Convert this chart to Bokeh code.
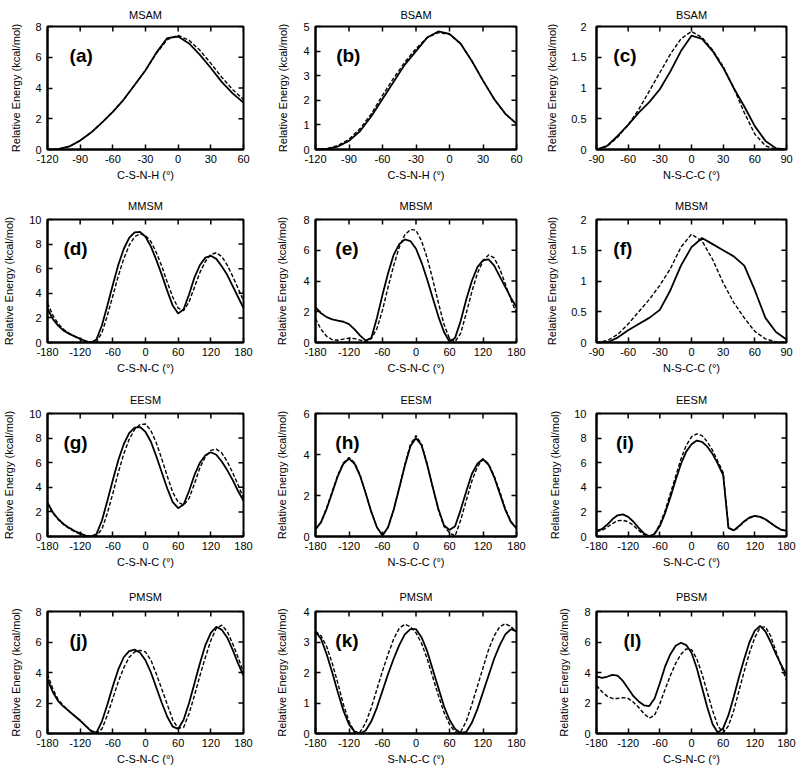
import math
from bokeh.plotting import figure
from bokeh.layouts import gridplot
from bokeh.models import FixedTicker, Range1d, Label
from bokeh.embed import file_html
from bokeh.resources import INLINE

FONT = "Liberation Sans"

# ---------------- data (angles in degrees, energies in kcal/mol) ----------------
ANG_A = [-120, -110, -100, -90, -80, -70, -60, -50, -40, -30, -20, -10, 0, 10, 20, 30, 40, 50, 60]
ANG_C = [-90, -80, -70, -60, -50, -40, -30, -20, -10, 0, 10, 20, 30, 40, 50, 60, 70, 80, 90]
ANG_D = [-180, -170, -160, -150, -140, -130, -120, -110, -100, -90, -80, -70, -60, -50, -40, -30,
         -20, -10, 0, 10, 20, 30, 40, 50, 60, 70, 80, 90, 100, 110, 120, 130, 140, 150, 160, 170, 180]

XT_A = [-120, -90, -60, -30, 0, 30, 60]
XT_C = [-90, -60, -30, 0, 30, 60, 90]
XT_D = [-180, -120, -60, 0, 60, 120, 180]
YT_2 = [0, 0.5, 1, 1.5, 2]
YT_4 = [0, 1, 2, 3, 4]
YT_5 = [0, 1, 2, 3, 4, 5]
YT_6 = [0, 2, 4, 6]
YT_8 = [0, 2, 4, 6, 8]
YT_10 = [0, 2, 4, 6, 8, 10]

a_solid = [0.0, 0.03, 0.2, 0.58, 1.1, 1.75, 2.45, 3.25, 4.2, 5.15, 6.3, 7.25, 7.35, 6.9, 6.15, 5.3, 4.4, 3.65, 3.05]
a_dashed = [0.0, 0.03, 0.2, 0.58, 1.1, 1.75, 2.45, 3.25, 4.2, 5.15, 6.25, 7.15, 7.42, 7.1, 6.45, 5.6, 4.7, 3.9, 3.25]

b_solid = [0.0, 0.02, 0.12, 0.35, 0.75, 1.35, 2.05, 2.75, 3.45, 4.0, 4.55, 4.8, 4.7, 4.3, 3.6, 2.8, 2.05, 1.45, 1.05]
b_dashed = [0.0, 0.03, 0.16, 0.42, 0.85, 1.45, 2.2, 2.9, 3.55, 4.1, 4.55, 4.75, 4.68, 4.3, 3.6, 2.8, 2.05, 1.45, 1.05]

c_solid = [0.0, 0.06, 0.22, 0.4, 0.6, 0.77, 0.98, 1.27, 1.6, 1.85, 1.8, 1.6, 1.33, 1.0, 0.7, 0.38, 0.14, 0.02, 0.0]
c_dashed = [0.0, 0.05, 0.2, 0.4, 0.65, 0.95, 1.25, 1.55, 1.8, 1.92, 1.82, 1.62, 1.35, 1.0, 0.6, 0.25, 0.06, 0.0, 0.0]

d_solid = [2.75, 1.9, 1.35, 0.95, 0.7, 0.5, 0.3, 0.1, 0.0, 0.25, 1.4, 3.0, 4.7, 6.3, 7.6, 8.5,
           8.95, 9.0, 8.6, 7.8, 6.7, 5.5, 4.2, 3.0, 2.35, 2.7, 3.9, 5.3, 6.3, 6.9, 7.05, 6.8, 6.2, 5.5, 4.6, 3.7, 2.8]
d_dashed = [3.2, 2.2, 1.5, 1.05, 0.75, 0.5, 0.3, 0.12, 0.03, 0.05, 0.8, 2.2, 3.8, 5.4, 6.8, 7.9,
            8.6, 8.85, 8.7, 8.2, 7.3, 6.2, 4.9, 3.7, 2.8, 2.6, 3.3, 4.5, 5.7, 6.6, 7.15, 7.3, 7.0, 6.3, 5.4, 4.4, 3.4]

e_solid = [2.3, 1.9, 1.65, 1.5, 1.42, 1.35, 1.2, 0.85, 0.45, 0.12, 0.3, 1.6, 3.1, 4.5, 5.7, 6.4,
           6.7, 6.6, 6.1, 5.2, 4.1, 2.9, 1.7, 0.7, 0.05, 0.3, 1.4, 2.8, 4.0, 4.9, 5.35, 5.4, 5.0, 4.3, 3.6, 2.9, 2.3]
e_dashed = [1.55, 0.85, 0.4, 0.18, 0.15, 0.22, 0.28, 0.25, 0.15, 0.05, 0.25, 0.9, 2.1, 3.6, 5.0, 6.2,
            7.0, 7.35, 7.3, 6.6, 5.5, 4.1, 2.6, 1.2, 0.25, 0.05, 0.6, 1.9, 3.3, 4.5, 5.3, 5.7, 5.5, 4.8, 3.8, 2.8, 1.9]

f_solid = [0.0, 0.0, 0.08, 0.2, 0.3, 0.4, 0.53, 0.85, 1.25, 1.55, 1.7, 1.6, 1.5, 1.4, 1.25, 0.85, 0.4, 0.17, 0.05]
f_dashed = [0.0, 0.03, 0.13, 0.3, 0.5, 0.7, 0.93, 1.2, 1.55, 1.76, 1.65, 1.35, 0.97, 0.65, 0.4, 0.18, 0.06, 0.01, 0.0]

g_solid = [2.75, 1.95, 1.4, 1.0, 0.7, 0.45, 0.25, 0.08, 0.0, 0.2, 1.3, 2.9, 4.6, 6.2, 7.5, 8.4,
           8.85, 8.9, 8.5, 7.7, 6.5, 5.2, 3.9, 2.8, 2.3, 2.6, 3.7, 5.0, 6.0, 6.6, 6.85, 6.65, 6.1, 5.4, 4.6, 3.7, 2.9]
g_dashed = [2.7, 1.9, 1.35, 0.95, 0.65, 0.4, 0.2, 0.07, 0.0, 0.05, 0.6, 1.9, 3.5, 5.2, 6.7, 7.9,
            8.7, 9.1, 9.15, 8.6, 7.6, 6.3, 4.9, 3.6, 2.8, 2.55, 3.1, 4.3, 5.6, 6.5, 7.0, 7.1, 6.8, 6.1, 5.2, 4.2, 3.1]

h_solid = [0.35, 0.7, 1.35, 2.15, 2.95, 3.55, 3.8, 3.55, 2.95, 2.1, 1.2, 0.45, 0.05, 0.45, 1.3, 2.35,
           3.45, 4.4, 4.8, 4.45, 3.5, 2.4, 1.35, 0.55, 0.32, 0.5, 1.3, 2.2, 3.05, 3.55, 3.78, 3.5, 2.9, 2.1, 1.3, 0.7, 0.4]
h_dashed = [0.35, 0.7, 1.4, 2.2, 3.0, 3.6, 3.85, 3.6, 3.0, 2.1, 1.2, 0.45, 0.05, 0.45, 1.3, 2.4,
            3.5, 4.5, 4.92, 4.5, 3.55, 2.4, 1.3, 0.5, 0.18, 0.02, 0.8, 1.75, 2.7, 3.4, 3.78, 3.55, 2.95, 2.2, 1.35, 0.75, 0.4]

i_solid = [0.45, 0.6, 0.95, 1.4, 1.72, 1.8, 1.6, 1.2, 0.7, 0.25, 0.02, 0.2, 0.85, 1.9, 3.2, 4.6,
           5.9, 6.9, 7.5, 7.8, 7.7, 7.3, 6.7, 5.9, 5.0, 0.7, 0.5, 0.85, 1.25, 1.55, 1.68, 1.6, 1.4, 1.1, 0.8, 0.55, 0.45]
i_dashed = [0.4, 0.5, 0.75, 1.05, 1.28, 1.32, 1.2, 0.9, 0.5, 0.15, 0.0, 0.25, 1.0, 2.1, 3.5, 4.9,
            6.3, 7.4, 8.1, 8.35, 8.2, 7.7, 7.0, 6.1, 5.2, 0.8, 0.45, 0.8, 1.2, 1.5, 1.65, 1.6, 1.4, 1.1, 0.8, 0.55, 0.45]

j_solid = [3.55, 2.7, 2.1, 1.75, 1.45, 1.15, 0.85, 0.5, 0.15, 0.05, 0.8, 1.9, 3.1, 4.2, 5.0, 5.4,
           5.5, 5.3, 4.8, 4.0, 3.0, 2.0, 1.1, 0.45, 0.3, 0.9, 2.0, 3.3, 4.6, 5.8, 6.6, 7.0, 6.8, 6.3, 5.5, 4.6, 3.8]
j_dashed = [3.9, 2.9, 2.2, 1.8, 1.45, 1.15, 0.85, 0.5, 0.2, 0.02, 0.3, 1.2, 2.3, 3.4, 4.3, 5.0,
            5.35, 5.45, 5.35, 4.8, 3.9, 2.9, 1.9, 0.9, 0.35, 0.4, 1.3, 2.5, 3.8, 5.0, 6.1, 6.9, 7.1, 6.7, 5.9, 5.0, 4.0]

k_solid = [3.35, 3.1, 2.6, 2.0, 1.35, 0.75, 0.3, 0.06, 0.0, 0.1, 0.4, 0.85, 1.4, 1.95, 2.45, 2.9,
           3.25, 3.42, 3.42, 3.15, 2.7, 2.1, 1.5, 0.9, 0.45, 0.15, 0.02, 0.05, 0.35, 0.8, 1.35, 1.9, 2.45, 2.9, 3.25, 3.42, 3.35]
k_dashed = [3.35, 3.2, 2.85, 2.3, 1.65, 0.95, 0.4, 0.05, 0.05, 0.35, 0.85, 1.45, 2.05, 2.6, 3.1, 3.45,
            3.58, 3.5, 3.3, 2.95, 2.45, 1.85, 1.25, 0.7, 0.3, 0.05, 0.05, 0.4, 0.95, 1.55, 2.15, 2.75, 3.2, 3.5, 3.6, 3.5, 3.35]

l_solid = [3.75, 3.65, 3.72, 3.85, 3.8, 3.45, 2.95, 2.45, 2.1, 1.85, 1.8, 2.3, 3.3, 4.4, 5.2, 5.75,
           5.95, 5.8, 5.3, 4.3, 3.0, 1.7, 0.6, 0.05, 0.35, 1.2, 2.4, 3.7, 4.9, 6.0, 6.75, 7.05, 6.7, 6.0, 5.2, 4.5, 3.85]
l_dashed = [3.15, 2.75, 2.45, 2.3, 2.3, 2.35, 2.3, 2.05, 1.7, 1.3, 1.0, 1.2, 1.95, 2.9, 3.8, 4.6,
            5.2, 5.55, 5.5, 4.9, 3.9, 2.7, 1.5, 0.5, 0.05, 0.5, 1.5, 2.8, 4.1, 5.3, 6.3, 6.95, 7.0, 6.4, 5.4, 4.4, 3.5]

PANELS = [
    ("(a)", "MSAM", "C-S-N-H (°)", ANG_A, a_solid, a_dashed, XT_A, YT_8),
    ("(b)", "BSAM", "C-S-N-H (°)", ANG_A, b_solid, b_dashed, XT_A, YT_5),
    ("(c)", "BSAM", "N-S-C-C (°)", ANG_C, c_solid, c_dashed, XT_C, YT_2),
    ("(d)", "MMSM", "C-S-N-C (°)", ANG_D, d_solid, d_dashed, XT_D, YT_10),
    ("(e)", "MBSM", "C-S-N-C (°)", ANG_D, e_solid, e_dashed, XT_D, YT_8),
    ("(f)", "MBSM", "N-S-C-C (°)", ANG_C, f_solid, f_dashed, XT_C, YT_2),
    ("(g)", "EESM", "C-S-N-C (°)", ANG_D, g_solid, g_dashed, XT_D, YT_10),
    ("(h)", "EESM", "N-S-C-C (°)", ANG_D, h_solid, h_dashed, XT_D, YT_6),
    ("(i)", "EESM", "S-N-C-C (°)", ANG_D, i_solid, i_dashed, XT_D, YT_10),
    ("(j)", "PMSM", "C-S-N-C (°)", ANG_D, j_solid, j_dashed, XT_D, YT_8),
    ("(k)", "PMSM", "S-N-C-C (°)", ANG_D, k_solid, k_dashed, XT_D, YT_4),
    ("(l)", "PBSM", "C-S-N-C (°)", ANG_D, l_solid, l_dashed, XT_D, YT_8),
]

# ---------------- layout (pixels) ----------------
COL_W = [273, 270, 257]
ROW_H = [190, 194, 196, 190]
BORDER_L = [[39, 39, 51], [46, 40, 51], [46, 40, 48], [39, 40, 39]]
BORDER_R = [30, 27, 14]
BORDER_T = [25, 28, 28, 30]
BORDER_B = [41, 42, 44, 37]
TITLE_STANDOFF = [12, 15, 15, 17]
LABEL_H = 13.5                     # height reserved for one line of 11px text
YLAB_CX = [10, 8.5, 8.5]           # centre of the rotated y label inside each column's figure
YTICK_STANDOFF = [[6, 6, 10], [6, 6, 10], [6, 6, 10], [6, 6, 6]]
TAG_X = [62, 60, 68]               # left of the panel tag inside each column's figure
TAG_DY = 29                        # tag centre below top of frame
TICK_LEN = 5

CHAR_W = {".": 3.06, "-": 3.66}


def fmt(v):
    return str(int(v)) if float(v).is_integer() else str(v)


def text_w(s):
    return sum(CHAR_W.get(ch, 6.12) for ch in s)


def style_axis(ax, ticks):
    ax.ticker = FixedTicker(ticks=ticks)
    ax.major_label_overrides = {t: fmt(t) for t in ticks}
    ax.major_tick_in = TICK_LEN
    ax.major_tick_out = 0
    ax.minor_tick_line_color = None
    ax.major_tick_line_color = "black"
    ax.major_tick_line_width = 1.5
    ax.axis_line_color = "black"
    ax.axis_line_width = 2
    ax.major_label_text_font = FONT
    ax.major_label_text_font_size = "11px"
    ax.major_label_text_color = "black"
    ax.axis_label_text_font = FONT
    ax.axis_label_text_font_style = "normal"
    ax.axis_label_text_color = "black"
    ax.axis_label_text_font_size = "11px"


rows = []
for r in range(4):
    row = []
    for c in range(3):
        tag, title, xlabel, xs, solid, dashed, xt, yt = PANELS[r * 3 + c]
        W, H = COL_W[c], ROW_H[r]
        bl, br, bt, bb = BORDER_L[r][c], BORDER_R[c], BORDER_T[r], BORDER_B[r]
        fw = W - bl - br
        fh = H - bt - bb
        x0, x1 = xt[0], xt[-1]
        y0, y1 = yt[0], yt[-1]
        p = figure(width=W, height=H, x_range=Range1d(x0, x1), y_range=Range1d(y0, y1),
                   toolbar_location=None, output_backend="svg",
                   min_border_left=bl, min_border_right=br,
                   min_border_top=bt, min_border_bottom=bb,
                   x_axis_label=xlabel, y_axis_label="Relative Energy (kcal/mol)")
        p.grid.visible = False
        p.outline_line_color = "black"
        p.outline_line_width = 2
        p.background_fill_color = "white"
        p.border_fill_color = "white"
        p.title.text = title
        p.title.align = "center"
        p.title.text_font = FONT
        p.title.text_font_size = "11px"
        p.title.text_font_style = "normal"
        p.title.text_color = "black"
        p.title.standoff = TITLE_STANDOFF[r]

        style_axis(p.xaxis[0], xt)
        style_axis(p.yaxis[0], yt)
        ms = YTICK_STANDOFF[r][c]
        p.yaxis[0].major_label_standoff = ms
        tickw = max(text_w(fmt(t)) for t in yt)
        p.yaxis[0].axis_label_standoff = max(2, int(bl - ms - tickw - YLAB_CX[c] - LABEL_H / 2))
        p.xaxis[0].major_label_standoff = 5
        p.xaxis[0].axis_label_standoff = 3

        # mirrored inward ticks on the top and right edges (half of each dash is clipped by the frame)
        p.scatter(xt, [y1] * len(xt), marker="dash", angle=math.pi / 2, size=2 * TICK_LEN,
                  line_color="black", line_width=1.5)
        p.scatter([x1] * len(yt), yt, marker="dash", angle=0, size=2 * TICK_LEN,
                  line_color="black", line_width=1.5)

        p.line(xs, solid, line_color="black", line_width=1.8)
        p.line(xs, dashed, line_color="black", line_width=1.4, line_dash="4 2")

        tx = x0 + (TAG_X[c] - bl) / fw * (x1 - x0)
        ty = y1 - TAG_DY / fh * (y1 - y0)
        p.add_layout(Label(x=tx, y=ty, text=tag, text_font=FONT, text_font_style="bold",
                           text_font_size="19px", text_baseline="middle", text_color="black"))
        row.append(p)
    rows.append(row)

grid = gridplot(rows, toolbar_location=None)
open("out.html", "w").write(file_html(grid, INLINE))
